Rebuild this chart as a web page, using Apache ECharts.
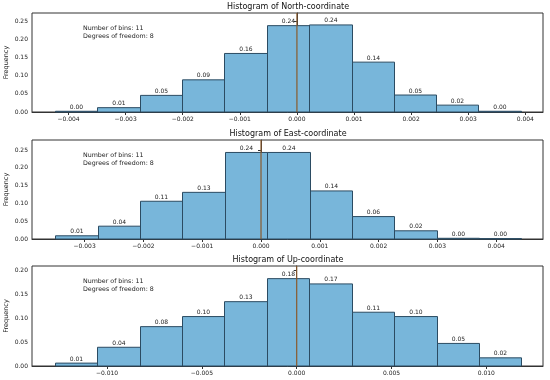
<!DOCTYPE html>
<html>
<head>
<meta charset="utf-8">
<script src="https://cdn.jsdelivr.net/npm/echarts@6/dist/echarts.min.js"></script>
<style>html,body{margin:0;padding:0;background:#fff}#c{width:550px;height:380px}</style>
</head>
<body>
<div id="c"></div>
<script>
// ---- data ----
var titles = ['Histogram of North-coordinate', 'Histogram of East-coordinate', 'Histogram of Up-coordinate'];
var northEdges = [-0.00424, -0.00350, -0.00275, -0.00201, -0.00127, -0.00053, 0.00021, 0.00096, 0.00170, 0.00244, 0.00318, 0.00392];
var northFreq  = [0.002, 0.012, 0.046, 0.089, 0.162, 0.239, 0.241, 0.138, 0.047, 0.019, 0.002];
var eastEdges  = [-0.00350, -0.00278, -0.00206, -0.00134, -0.00062, 0.00011, 0.00083, 0.00155, 0.00227, 0.00299, 0.00371, 0.00443];
var eastFreq   = [0.009, 0.036, 0.106, 0.131, 0.243, 0.243, 0.135, 0.063, 0.023, 0.002, 0.001];
var upEdges    = [-0.01275, -0.01051, -0.00828, -0.00604, -0.00381, -0.00157, 0.00067, 0.00290, 0.00514, 0.00738, 0.00961, 0.01185];
var upFreq     = [0.006, 0.039, 0.082, 0.103, 0.134, 0.182, 0.171, 0.112, 0.103, 0.047, 0.017];
var meanLines  = [0.0, 0.0, 0.0];
var northXTicks = [-0.004, -0.003, -0.002, -0.001, 0.000, 0.001, 0.002, 0.003, 0.004];
var eastXTicks  = [-0.003, -0.002, -0.001, 0.000, 0.001, 0.002, 0.003, 0.004];
var upXTicks    = [-0.010, -0.005, 0.000, 0.005, 0.010];
var northYTicks = [0, 0.05, 0.10, 0.15, 0.20, 0.25];
var eastYTicks  = [0, 0.05, 0.10, 0.15, 0.20, 0.25];
var upYTicks    = [0, 0.05, 0.10, 0.15, 0.20];
var annotation  = ['Number of bins: 11', 'Degrees of freedom: 8'];

// ---- layout ----
var panels = [
  {edges: northEdges, freq: northFreq, xt: northXTicks, yt: northYTicks, xmin: -0.00464, xmax: 0.00431, ymax: 0.274, top: 13, h: 99},
  {edges: eastEdges, freq: eastFreq, xt: eastXTicks, yt: eastYTicks, xmin: -0.003895, xmax: 0.004796, ymax: 0.278, top: 140, h: 99},
  {edges: upEdges, freq: upFreq, xt: upXTicks, yt: upYTicks, xmin: -0.01396, xmax: 0.01299, ymax: 0.2083, top: 266, h: 100}
];
var FONT = 'DejaVu Sans';
function fmtX(v) { var s = Math.abs(v).toFixed(3); return (v < -1e-12 ? '\u2212' : '') + s; }

var grids = [], xAxes = [], yAxes = [], series = [], titleOpts = [], graphics = [];
panels.forEach(function (p, i) {
  grids.push({left: 32, right: 7, top: p.top, height: p.h, show: true, borderColor: '#333', borderWidth: 1,
    backgroundColor: 'transparent', containLabel: false, outerBoundsMode: 'none'});
  titleOpts.push({text: titles[i], left: 288, top: p.top - 10, textAlign: 'center', padding: 0,
    textStyle: {fontFamily: FONT, fontSize: 8, fontWeight: 'normal', color: '#111'}});
  xAxes.push({type: 'value', gridIndex: i, min: p.xmin, max: p.xmax,
    axisLine: {show: true, onZero: false, lineStyle: {color: '#333'}},
    axisTick: {show: true, length: 3, customValues: p.xt, lineStyle: {color: '#333'}},
    axisLabel: {customValues: p.xt, fontFamily: FONT, fontSize: 6, color: '#222', margin: 4,
      formatter: function (v) { return fmtX(v); }},
    splitLine: {show: false}});
  yAxes.push({type: 'value', gridIndex: i, min: 0, max: p.ymax,
    name: 'Frequency', nameLocation: 'middle', nameGap: 22, nameRotate: 90, nameMoveOverlap: false,
    nameTextStyle: {fontFamily: FONT, fontSize: 6.5, color: '#222'},
    axisLine: {show: true, lineStyle: {color: '#333'}},
    axisTick: {show: true, length: 3, customValues: p.yt, lineStyle: {color: '#333'}},
    axisLabel: {customValues: p.yt, fontFamily: FONT, fontSize: 6, color: '#222', margin: 4,
      formatter: function (v) { return v.toFixed(2); }},
    splitLine: {show: false}});
  var data = p.freq.map(function (f, k) { return [p.edges[k], p.edges[k + 1], f]; });
  series.push({type: 'custom', xAxisIndex: i, yAxisIndex: i, data: data,
    renderItem: function (params, api) {
      var a = api.coord([api.value(0), api.value(2)]);
      var b = api.coord([api.value(1), 0]);
      var x0 = Math.round(a[0]) + 0.5, x1 = Math.round(b[0]) + 0.5;
      return {type: 'group', children: [
        {type: 'rect', shape: {x: x0, y: a[1], width: x1 - x0, height: b[1] - a[1]},
          style: {fill: '#78b6da', stroke: '#2b4b62', lineWidth: 1}},
        {type: 'text', style: {text: api.value(2).toFixed(2), x: (x0 + x1) / 2, y: a[1] - 1,
          align: 'center', verticalAlign: 'bottom', fontFamily: FONT, fontSize: 6, fill: '#222'}}
      ]};
    },
    encode: {x: [0, 1], y: 2}, z: 2});
  series.push({type: 'line', xAxisIndex: i, yAxisIndex: i, data: [[meanLines[i], 0], [meanLines[i], p.ymax]],
    symbol: 'none', lineStyle: {color: '#8a5a2c', width: 1.2}, z: 5, silent: true});
  graphics.push({type: 'text', left: 83, top: p.top + 12,
    style: {text: annotation.join('\n'), fontFamily: FONT, fontSize: 6.3, lineHeight: 7.5, fill: '#222'}});
});

var chart = echarts.init(document.getElementById('c'), null, {renderer: 'canvas'});
chart.setOption({
  animation: false,
  backgroundColor: '#fff',
  title: titleOpts,
  grid: grids,
  xAxis: xAxes,
  yAxis: yAxes,
  series: series,
  graphic: graphics
});
</script>
</body>
</html>
